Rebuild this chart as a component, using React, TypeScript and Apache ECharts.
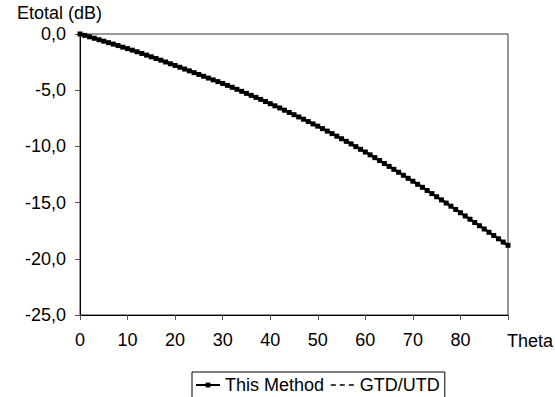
import React, { useEffect, useRef } from "react";
import * as echarts from "echarts";

const theta: number[] = Array.from({ length: 91 }, (_, i) => i);

const thisMethod: number[] = [
  0, -0.12, -0.25, -0.38, -0.51, -0.64, -0.77, -0.9, -1.03, -1.17,
  -1.3, -1.44, -1.58, -1.73, -1.88, -2.03, -2.18, -2.33, -2.49, -2.65,
  -2.8, -2.96, -3.12, -3.28, -3.44, -3.6, -3.76, -3.92, -4.08, -4.24,
  -4.4, -4.57, -4.74, -4.92, -5.1, -5.28, -5.46, -5.64, -5.82, -6.01,
  -6.2, -6.39, -6.58, -6.78, -6.98, -7.18, -7.38, -7.58, -7.79, -8.0,
  -8.2, -8.42, -8.64, -8.86, -9.09, -9.32, -9.55, -9.78, -10.02, -10.26,
  -10.5, -10.75, -11.0, -11.26, -11.52, -11.78, -12.04, -12.3, -12.57, -12.84,
  -13.1, -13.37, -13.64, -13.92, -14.2, -14.48, -14.76, -15.04, -15.32, -15.61,
  -15.9, -16.19, -16.48, -16.77, -17.06, -17.35, -17.64, -17.93, -18.22, -18.51,
  -18.8,
];

const gtdUtd: number[] = [
  0, -0.12, -0.25, -0.38, -0.51, -0.64, -0.77, -0.9, -1.03, -1.17,
  -1.3, -1.44, -1.58, -1.73, -1.88, -2.03, -2.18, -2.33, -2.49, -2.65,
  -2.8, -2.96, -3.12, -3.28, -3.44, -3.6, -3.76, -3.92, -4.08, -4.24,
  -4.4, -4.57, -4.74, -4.92, -5.1, -5.28, -5.46, -5.64, -5.82, -6.01,
  -6.2, -6.39, -6.58, -6.78, -6.98, -7.18, -7.38, -7.58, -7.79, -8.0,
  -8.2, -8.42, -8.64, -8.86, -9.09, -9.32, -9.55, -9.78, -10.02, -10.26,
  -10.5, -10.75, -11.0, -11.26, -11.52, -11.78, -12.04, -12.3, -12.57, -12.84,
  -13.1, -13.37, -13.64, -13.92, -14.2, -14.48, -14.76, -15.04, -15.32, -15.61,
  -15.9, -16.19, -16.48, -16.77, -17.06, -17.35, -17.66, -17.97, -18.3, -18.65,
  -18.95,
];

const yTicks = { min: -25, max: 0, interval: 5 };
const xTicks = { min: 0, max: 90, interval: 10 };

const FONT = "'Liberation Sans', Arial, sans-serif";

export default function App() {
  const ref = useRef<HTMLDivElement>(null);
  useEffect(() => {
    if (!ref.current) return;
    const chart = echarts.init(ref.current, null, { renderer: "svg" });
    chart.setOption({
      animation: false,
      backgroundColor: "#fff",
      textStyle: { fontFamily: FONT },
      grid: {
        left: 80,
        right: 47,
        top: 34,
        bottom: 82,
        show: true,
        borderColor: "#333",
        borderWidth: 1,
        backgroundColor: "transparent",
      },
      xAxis: {
        type: "value",
        min: xTicks.min,
        max: xTicks.max,
        interval: xTicks.interval,
        axisLine: { onZero: false, lineStyle: { color: "#000", width: 1 } },
        axisTick: { show: true, inside: false, length: 5, lineStyle: { color: "#555" } },
        splitLine: { show: false },
        axisLabel: {
          margin: 16,
          fontSize: 18,
          color: "#000",
          fontFamily: FONT,
          formatter: (v: number) => (v === 90 ? "" : String(v)),
        },
      },
      yAxis: {
        type: "value",
        min: yTicks.min,
        max: yTicks.max,
        interval: yTicks.interval,
        axisLine: { show: true, onZero: false, lineStyle: { color: "#000", width: 1 } },
        axisTick: { show: true, inside: false, length: 5, lineStyle: { color: "#555" } },
        splitLine: { show: false },
        axisLabel: {
          margin: 14,
          fontSize: 18,
          color: "#000",
          fontFamily: FONT,
          formatter: (v: number) => v.toFixed(1).replace(".", ","),
        },
      },
      legend: {
        left: 192,
        top: 372,
        orient: "horizontal",
        itemWidth: 24,
        itemHeight: 6,
        itemGap: 6,
        padding: [4, 5, 6, 3],
        borderColor: "#000",
        borderWidth: 1,
        textStyle: { fontSize: 18, color: "#000", fontFamily: FONT },
        data: [
          { name: "This Method" },
          {
            name: "GTD/UTD",
            itemStyle: { color: "rgba(0,0,0,0)", borderColor: "rgba(0,0,0,0)", borderWidth: 0 },
            lineStyle: { color: "#000", width: 1.5, type: [5, 4] },
          },
        ],
      },
      series: [
        {
          name: "GTD/UTD",
          type: "line",
          data: theta.map((t, i) => [t, gtdUtd[i]]),
          showSymbol: false,
          symbol: "none",
          lineStyle: { color: "#000", width: 1, type: [3, 3] },
          itemStyle: { color: "#000" },
          z: 2,
        },
        {
          name: "This Method",
          type: "line",
          data: theta.map((t, i) => [t, thisMethod[i]]),
          symbol: "rect",
          symbolSize: 5,
          showSymbol: true,
          lineStyle: { color: "#000", width: 2.5 },
          itemStyle: { color: "#000" },
          z: 3,
        },
      ],
      graphic: [
        {
          type: "text",
          left: 17,
          top: 4,
          style: { text: "Etotal (dB)", fontSize: 18, fill: "#000", fontFamily: FONT },
        },
        {
          type: "text",
          left: 507,
          top: 332,
          style: { text: "Theta", fontSize: 18, fill: "#000", fontFamily: FONT },
        },
      ],
    });
    return () => chart.dispose();
  }, []);
  return (
    <div
      ref={ref}
      style={{ position: "fixed", left: 0, top: 0, width: 555, height: 397 }}
    />
  );
}
